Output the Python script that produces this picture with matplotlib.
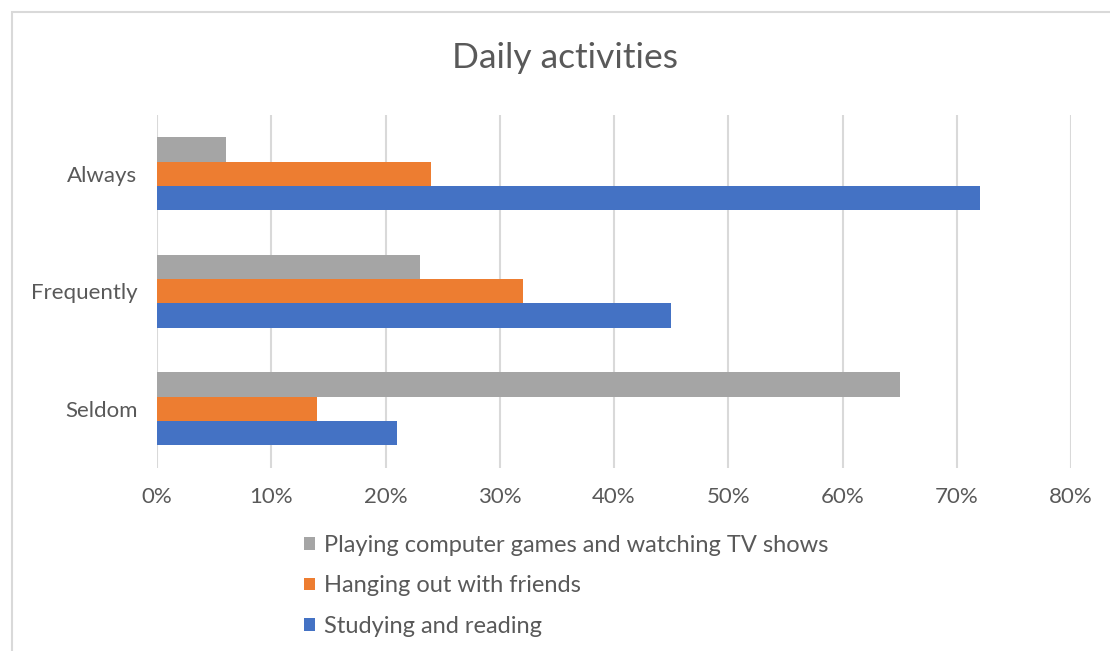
import matplotlib
matplotlib.use("Agg")
import matplotlib.pyplot as plt
from matplotlib.patches import Rectangle, Patch
from matplotlib.ticker import FuncFormatter
import numpy as np

categories = ["Seldom", "Frequently", "Always"]
series_names = ["Playing computer games and watching TV shows",
                "Hanging out with friends",
                "Studying and reading"]
playing = [65, 23, 6]
hanging = [14, 32, 24]
studying = [21, 45, 72]
x_ticks = [0, 10, 20, 30, 40, 50, 60, 70, 80]

colors = ["#A5A5A5", "#ED7D31", "#4472C4"]
text_color = "#595959"
grid_color = "#D9D9D9"

plt.rcParams['font.family'] = ['Lato', 'DejaVu Sans']

W, H = 1110, 651
fig = plt.figure(figsize=(W / 100, H / 100), dpi=100)

left, right, top, bottom = 157, 1071, 115, 467.5
ax = fig.add_axes([left / W, 1 - bottom / H, (right - left) / W, (bottom - top) / H])

y = np.arange(len(categories))
h = 0.207
ax.barh(y + h, playing, height=h, color=colors[0], label=series_names[0], zorder=3)
ax.barh(y, hanging, height=h, color=colors[1], label=series_names[1], zorder=3)
ax.barh(y - h, studying, height=h, color=colors[2], label=series_names[2], zorder=3)

ax.set_xlim(0, 80)
ax.set_ylim(-0.5, len(categories) - 0.5)
ax.set_xticks(x_ticks)
ax.xaxis.set_major_formatter(FuncFormatter(lambda v, p: f"{int(v)}%"))
ax.set_yticks(y)
ax.set_yticklabels(categories)
ax.grid(axis='x', color=grid_color, linewidth=1.5, zorder=0)
ax.grid(axis='y', visible=False)
for s in ax.spines.values():
    s.set_visible(False)
ax.tick_params(axis='both', length=0, colors=text_color, labelsize=16)
ax.tick_params(axis='x', pad=14)
ax.tick_params(axis='y', pad=14)

fig.text(565 / W, 1 - 58 / H, "Daily activities", ha='center', va='center',
         fontsize=25.5, color=text_color)

handles = [Patch(facecolor=c) for c in colors]
leg = fig.legend(handles, series_names, loc='upper left',
                 bbox_to_anchor=(304 / W, 1 - 535 / H), frameon=False,
                 fontsize=17, handlelength=0.45, handleheight=0.45,
                 handletextpad=0.4, labelspacing=0.82, borderpad=0, borderaxespad=0)
for t in leg.get_texts():
    t.set_color(text_color)

fig.patches.append(Rectangle((11.5 / W, -0.1), 1.2, 1 - 11.5 / H + 0.1,
                             transform=fig.transFigure, fill=False,
                             edgecolor=grid_color, linewidth=1.5))

fig.savefig("out.png", dpi=100)
